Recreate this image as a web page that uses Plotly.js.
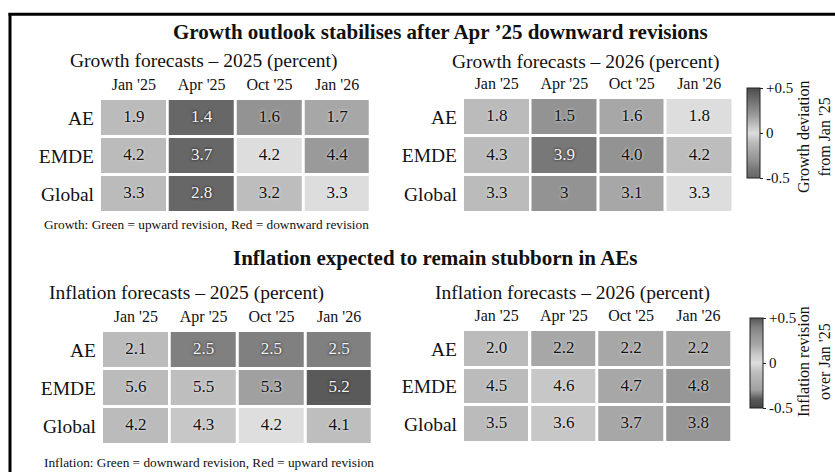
<!DOCTYPE html>
<html>
<head>
<meta charset="utf-8">
<script src="https://cdn.plot.ly/plotly-3.0.1.min.js"></script>
<style>html,body{margin:0;padding:0;background:#fff;}#chart{width:835px;height:472px;}</style>
</head>
<body>
<div id="chart"></div>
<script>
// ---- data ----
const months = ["Jan '25", "Apr '25", "Oct '25", "Jan '26"];
const regions = ["AE", "EMDE", "Global"];
const growth2025 = [["1.9", "1.4", "1.6", "1.7"], ["4.2", "3.7", "4.2", "4.4"], ["3.3", "2.8", "3.2", "3.3"]];
const growth2026 = [["1.8", "1.5", "1.6", "1.8"], ["4.3", "3.9", "4.0", "4.2"], ["3.3", "3", "3.1", "3.3"]];
const inflation2025 = [["2.1", "2.5", "2.5", "2.5"], ["5.6", "5.5", "5.3", "5.2"], ["4.2", "4.3", "4.2", "4.1"]];
const inflation2026 = [["2.0", "2.2", "2.2", "2.2"], ["4.5", "4.6", "4.7", "4.8"], ["3.5", "3.6", "3.7", "3.8"]];
const sectionTitles = ["Growth outlook stabilises after Apr \u201925 downward revisions", "Inflation expected to remain stubborn in AEs"];
const panelTitles = ["Growth forecasts \u2013 2025 (percent)", "Growth forecasts \u2013 2026 (percent)", "Inflation forecasts \u2013 2025 (percent)", "Inflation forecasts \u2013 2026 (percent)"];
const notes = ["Growth: Green = upward revision, Red = downward revision", "Inflation: Green = downward revision, Red = upward revision"];
const colorbarTitles = ["Growth deviation<br>from Jan '25", "Inflation revision<br>over Jan '25"];
const scaleTicks = [-0.5, 0, 0.5];
const scaleTickText = ["-0.5", "0", "+0.5"];

// ---- styles ----
const FONT = "Liberation Serif, Times New Roman, serif";
const W = 835, H = 472;
const px = v => v / W;
const py = v => 1 - v / H;

const growthScale = [[0, '#676767'], [0.1, '#787878'], [0.2, '#939393'], [0.3, '#a7a7a7'], [0.4, '#bdbdbd'], [0.5, '#dddddd'], [0.7, '#9a9a9a'], [1, '#4c4c4c']];
const inflationScale = [[0, '#444444'], [0.1, '#5a5a5a'], [0.2, '#a0a0a0'], [0.4, '#bebebe'], [0.5, '#dedede'], [0.6, '#c7c7c7'], [0.7, '#a7a7a7'], [0.8, '#979797'], [0.9, '#808080'], [1, '#555555']];
const baseScale = [[0, '#bbbbbb'], [1, '#bbbbbb']];

const colIdx = months.map((m, i) => i);
const rowIdx = regions.map((r, i) => i);

const panels = [
  {data: growth2025, xa: 'x', ya: 'y', scale: growthScale, cb: null},
  {data: growth2026, xa: 'x2', ya: 'y2', scale: growthScale, cb: {x: 747, y: 88}},
  {data: inflation2025, xa: 'x3', ya: 'y3', scale: inflationScale, cb: null},
  {data: inflation2026, xa: 'x4', ya: 'y4', scale: inflationScale, cb: {x: 750, y: 318}}
];

const traces = [];
panels.forEach(p => {
  const num = p.data.map(r => r.map(Number));
  const dev = num.map(r => r.map(v => Math.round((v - r[0]) * 100) / 100));
  traces.push({
    type: 'heatmap', xaxis: p.xa, yaxis: p.ya,
    x: [colIdx[0]], y: rowIdx,
    z: num.map(r => [r[0]]),
    colorscale: baseScale, showscale: false, xgap: 3, ygap: 3, hoverinfo: 'skip'
  });
  const rev = {
    type: 'heatmap', xaxis: p.xa, yaxis: p.ya,
    x: colIdx.slice(1), y: rowIdx,
    z: dev.map(r => r.slice(1)),
    colorscale: p.scale, zmin: -0.5, zmax: 0.5,
    showscale: !!p.cb, xgap: 3, ygap: 3, hoverinfo: 'skip'
  };
  if (p.cb) {
    rev.colorbar = {
      x: px(p.cb.x), xanchor: 'left', y: py(p.cb.y), yanchor: 'top',
      len: 90 / H, lenmode: 'fraction', thickness: 13, thicknessmode: 'pixels',
      outlinewidth: 1, outlinecolor: '#222', xpad: 0, ypad: 0,
      tickvals: scaleTicks, ticktext: scaleTickText, ticks: 'outside', ticklen: 3,
      tickcolor: '#222', tickfont: {family: FONT, size: 15, color: '#111'}
    };
  }
  traces.push(rev);
  // value labels
  const tx = [], ty = [], tt = [], tc = [], ts = [];
  p.data.forEach((row, ri) => row.forEach((v, ci) => {
    const dark = Math.abs(dev[ri][ci]) >= 0.4;
    tx.push(colIdx[ci]); ty.push(rowIdx[ri]); tt.push(v);
    tc.push(dark ? '#f4f4f4' : '#111');
    ts.push(dark ? '0px 0px 3px #000' : '0px 0px 3px #fff');
  }));
  traces.push({
    type: 'scatter', mode: 'text', xaxis: p.xa, yaxis: p.ya,
    x: tx, y: ty, text: tt, textposition: 'middle center', hoverinfo: 'skip',
    textfont: {family: FONT, size: 17, color: tc, shadow: ts}
  });
});

function xax(x0, x1, y) {
  return {domain: [px(x0), px(x1)], anchor: y, side: 'top', range: [-0.5, 3.5],
    tickmode: 'array', tickvals: colIdx, ticktext: months, ticklabelstandoff: 5,
    ticks: '', showgrid: false, zeroline: false, showline: false, fixedrange: true,
    tickfont: {family: FONT, size: 16, color: '#111'}};
}
function yax(y0, y1, x) {
  return {domain: [py(y1), py(y0)], anchor: x, range: [2.5, -0.5],
    tickmode: 'array', tickvals: rowIdx, ticktext: regions, ticklabelstandoff: 5,
    ticks: '', showgrid: false, zeroline: false, showline: false, fixedrange: true,
    tickfont: {family: FONT, size: 19.5, color: '#111'}};
}

const ann = (text, x, y, opts) => Object.assign({
  text: text, xref: 'paper', yref: 'paper', x: px(x), y: py(y),
  showarrow: false, xanchor: 'left', yanchor: 'middle',
  font: {family: FONT, size: 19.5, color: '#111'}
}, opts || {});

const annotations = [
  ann('<b>' + sectionTitles[0] + '</b>', 440, 32, {xanchor: 'center', font: {family: FONT, size: 21, color: '#111'}}),
  ann('<b>' + sectionTitles[1] + '</b>', 435, 258, {xanchor: 'center', font: {family: FONT, size: 21, color: '#111'}}),
  ann(panelTitles[0], 68, 61),
  ann(panelTitles[1], 450, 62),
  ann(panelTitles[2], 47, 293),
  ann(panelTitles[3], 433, 293),
  ann(notes[0], 42, 225, {font: {family: FONT, size: 13.3, color: '#111'}}),
  ann(notes[1], 42, 462, {font: {family: FONT, size: 13.3, color: '#111'}}),
  ann(colorbarTitles[0], 814, 137, {xanchor: 'center', textangle: -90, font: {family: FONT, size: 16, color: '#111'}}),
  ann(colorbarTitles[1], 814, 362, {xanchor: 'center', textangle: -90, font: {family: FONT, size: 16, color: '#111'}})
];

const layout = {
  width: W, height: H, margin: {l: 0, r: 0, t: 0, b: 0},
  paper_bgcolor: '#fff', plot_bgcolor: '#fff', showlegend: false,
  font: {family: FONT, color: '#111'},
  xaxis: xax(100, 371, 'y'), yaxis: yax(99, 213, 'x'),
  xaxis2: xax(463, 733, 'y2'), yaxis2: yax(98, 213, 'x2'),
  xaxis3: xax(102, 373, 'y3'), yaxis3: yax(331, 445, 'x3'),
  xaxis4: xax(463, 732, 'y4'), yaxis4: yax(330, 443, 'x4'),
  annotations: annotations,
  shapes: [
    {type: 'line', xref: 'paper', yref: 'paper', x0: px(10), x1: px(10), y0: 0, y1: py(13), line: {color: '#000', width: 3}},
    {type: 'line', xref: 'paper', yref: 'paper', x0: px(8.5), x1: 1, y0: py(14.3), y1: py(14.3), line: {color: '#000', width: 3}}
  ]
};

Plotly.newPlot('chart', traces, layout, {staticPlot: true, displayModeBar: false});
</script>
</body>
</html>
